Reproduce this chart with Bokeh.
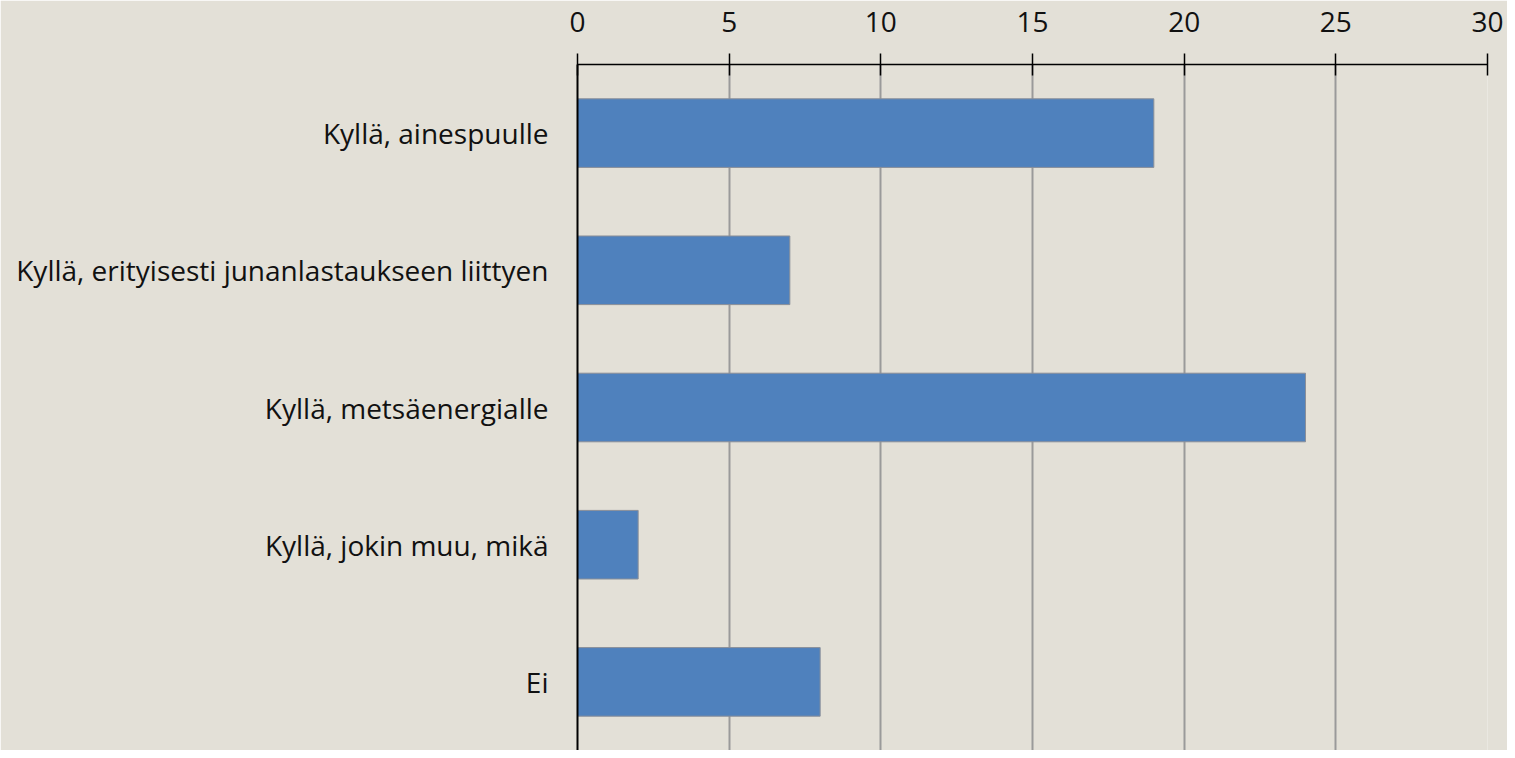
from bokeh.plotting import figure
from bokeh.models import FactorRange, Range1d, FixedTicker, ColumnDataSource
from bokeh.embed import file_html
from bokeh.resources import INLINE

categories = [
    "Kyllä, ainespuulle",
    "Kyllä, erityisesti junanlastaukseen liittyen",
    "Kyllä, metsäenergialle",
    "Kyllä, jokin muu, mikä",
    "Ei",
]
values = [19, 7, 24, 2, 8]
x_ticks = [0, 5, 10, 15, 20, 25, 30]

BG = "#E3E0D7"
FONT = "Open Sans"

p = figure(
    width=1507, height=750,
    y_range=FactorRange(*reversed(categories), range_padding=0),
    x_range=Range1d(0, 30),
    x_axis_location="above",
    output_backend="svg", toolbar_location=None,
    min_border_left=577, min_border_right=20, min_border_top=64, min_border_bottom=0,
)
p.background_fill_color = BG
p.border_fill_color = BG
p.outline_line_color = None

src = ColumnDataSource(dict(cat=categories, val=values))
p.hbar(y="cat", right="val", left=0, height=0.5, source=src,
       fill_color="#4F81BD", line_color="#8a8f99", line_width=1)

p.xaxis.ticker = FixedTicker(ticks=x_ticks)
p.xaxis.major_tick_out = 11
p.xaxis.major_tick_in = 11
p.xaxis.minor_tick_line_color = None
p.xaxis.axis_line_color = "black"
p.xaxis.axis_line_width = 1.5
p.xaxis.major_tick_line_color = "black"
p.xaxis.major_tick_line_width = 1.5
p.xaxis.major_label_text_font = FONT
p.xaxis.major_label_text_font_size = "28px"
p.xaxis.major_label_text_color = "#111111"
p.xaxis.major_label_standoff = 22

p.yaxis.major_tick_out = 0
p.yaxis.major_tick_in = 0
p.yaxis.major_tick_line_color = None
p.yaxis.minor_tick_line_color = None
p.yaxis.axis_line_color = "black"
p.yaxis.axis_line_width = 2
p.yaxis.major_label_text_font = FONT
p.yaxis.major_label_text_font_size = "28px"
p.yaxis.major_label_text_color = "#111111"
p.yaxis.major_label_standoff = 29

p.xgrid.grid_line_color = "#9a9a9a"
p.xgrid.grid_line_width = 2
p.ygrid.grid_line_color = None

open("out.html", "w").write(file_html(p, INLINE))
